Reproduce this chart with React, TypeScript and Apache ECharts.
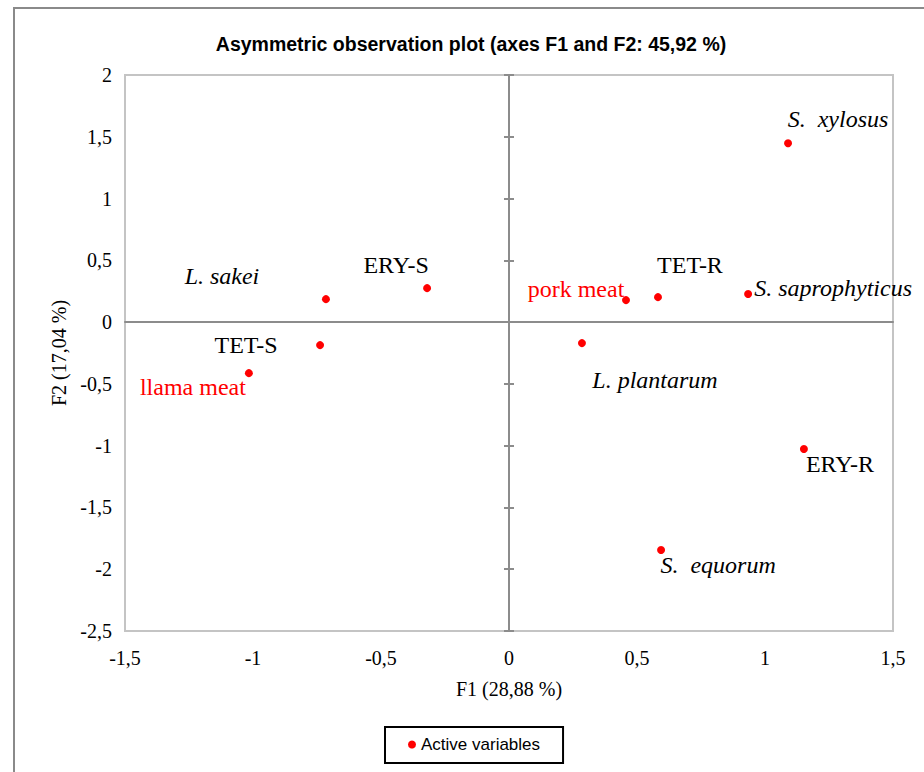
import React, { useEffect, useRef } from "react";
import * as echarts from "echarts";

const pointNames = [
  "L. sakei",
  "ERY-S",
  "TET-S",
  "llama meat",
  "pork meat",
  "TET-R",
  "S. saprophyticus",
  "S.  xylosus",
  "L. plantarum",
  "ERY-R",
  "S.  equorum",
];
const f1Values = [-0.715, -0.32, -0.738, -1.016, 0.457, 0.582, 0.934, 1.09, 0.285, 1.152, 0.594];
const f2Values = [0.186, 0.275, -0.186, -0.413, 0.178, 0.202, 0.227, 1.448, -0.17, -1.027, -1.845];

const xTicks = { min: -1.5, max: 1.5, step: 0.5 };
const yTicks = { min: -2.5, max: 2, step: 0.5 };

const titleText = "Asymmetric observation plot (axes F1 and F2: 45,92 %)";
const xName = "F1 (28,88 %)";
const yName = "F2 (17,04 %)";
const seriesName = "Active variables";

// label placement / style (not data)
const labelCfg: Record<string, { dx: number; dy: number; italic: boolean; color: string }> = {
  "L. sakei": { dx: -104, dy: -23, italic: true, color: "#000000" },
  "ERY-S": { dx: -31, dy: -23, italic: false, color: "#000000" },
  "TET-S": { dx: -74, dy: 0, italic: false, color: "#000000" },
  "llama meat": { dx: -56, dy: 14, italic: false, color: "#ff0000" },
  "pork meat": { dx: -50, dy: -11, italic: false, color: "#ff0000" },
  "TET-R": { dx: 32, dy: -32, italic: false, color: "#000000" },
  "S. saprophyticus": { dx: 85, dy: -6, italic: true, color: "#000000" },
  "S.  xylosus": { dx: 50, dy: -24, italic: true, color: "#000000" },
  "L. plantarum": { dx: 73, dy: 37, italic: true, color: "#000000" },
  "ERY-R": { dx: 36, dy: 15, italic: false, color: "#000000" },
  "S.  equorum": { dx: 57, dy: 15, italic: true, color: "#000000" },
};

const SERIF = "'Liberation Serif', 'Times New Roman', serif";
const NARROW = "'Liberation Sans Narrow', 'Arial Narrow', 'Liberation Sans', sans-serif";
const fmt = (v: number) => String(v).replace(".", ",");

export default function App() {
  const ref = useRef<HTMLDivElement>(null);
  useEffect(() => {
    document.body.style.margin = "0";
    if (!ref.current) return;
    const chart = echarts.init(ref.current, null, { renderer: "svg" });
    const data = pointNames.map((n, i) => {
      const c = labelCfg[n];
      return {
        name: n,
        value: [f1Values[i], f2Values[i]],
        label: {
          show: true,
          formatter: n,
          position: "inside",
          offset: [c.dx, c.dy],
          fontStyle: c.italic ? "italic" : "normal",
          color: c.color,
          opacity: 1,
          fontFamily: SERIF,
          fontSize: 24,
        },
      };
    });
    const axisLineColor = "#8c8c8c";
    const baseX = { type: "value", min: xTicks.min, max: xTicks.max, interval: xTicks.step, splitLine: { show: false } };
    const baseY = { type: "value", min: yTicks.min, max: yTicks.max, interval: yTicks.step, splitLine: { show: false } };
    chart.setOption({
      animation: false,
      backgroundColor: "#ffffff",
      title: {
        text: titleText,
        left: 466,
        top: 29,
        textAlign: "center",
        textStyle: { fontFamily: NARROW, fontWeight: "bold", fontSize: 19.5, color: "#000" },
      },
      legend: {
        data: [{ name: seriesName, icon: "circle" }],
        left: 385,
        top: 727,
        itemWidth: 8,
        itemHeight: 9,
        itemGap: 5,
        padding: [9, 23, 10, 23],
        borderColor: "#000",
        borderWidth: 2,
        textStyle: { fontFamily: NARROW, fontSize: 17, color: "#000" },
      },
      grid: {
        left: 125,
        right: 31,
        top: 75,
        bottom: 141,
        show: true,
        borderColor: "#c4c4c4",
        borderWidth: 2,
        containLabel: false,
      },
      xAxis: [
        {
          ...baseX,
          position: "bottom",
          axisLine: { show: false, onZero: false },
          axisTick: { show: false },
          axisLabel: { formatter: fmt, fontFamily: SERIF, fontSize: 20, color: "#000", margin: 17 },
          name: xName,
          nameLocation: "middle",
          nameGap: 48,
          nameTextStyle: { fontFamily: SERIF, fontSize: 20, color: "#000" },
        },
        {
          ...baseX,
          position: "bottom",
          axisLine: { show: true, onZero: true, onZeroAxisIndex: 0, lineStyle: { color: axisLineColor, width: 2 } },
          axisTick: { show: false },
          axisLabel: { show: false },
        },
      ],
      yAxis: [
        {
          ...baseY,
          position: "left",
          axisLine: { show: false, onZero: false },
          axisTick: { show: false },
          axisLabel: { formatter: fmt, fontFamily: SERIF, fontSize: 20, color: "#000", margin: 13 },
          name: yName,
          nameLocation: "middle",
          nameGap: 52,
          nameTextStyle: { fontFamily: SERIF, fontSize: 20, color: "#000" },
        },
        {
          ...baseY,
          position: "left",
          axisLine: { show: true, onZero: true, onZeroAxisIndex: 0, lineStyle: { color: axisLineColor, width: 2 } },
          axisTick: { show: true, inside: false, length: 5, lineStyle: { color: axisLineColor, width: 2 } },
          axisLabel: { show: false },
        },
        {
          ...baseY,
          position: "left",
          axisLine: { show: false, onZero: true, onZeroAxisIndex: 0 },
          axisTick: { show: true, inside: true, length: 5, lineStyle: { color: axisLineColor, width: 2 } },
          axisLabel: { show: false },
        },
      ],
      graphic: [
        {
          type: "rect",
          shape: { x: 14, y: 8, width: 1000, height: 1000 },
          style: { fill: "none", stroke: "#8a8a8a", lineWidth: 2 },
          silent: true,
          z: -1,
        },
      ],
      series: [
        {
          type: "scatter",
          name: seriesName,
          xAxisIndex: 0,
          yAxisIndex: 0,
          symbol: "circle",
          symbolSize: 8,
          itemStyle: { color: "#ff0000", opacity: 1 },
          data,
          z: 5,
        },
      ],
    });
    return () => chart.dispose();
  }, []);
  return <div ref={ref} style={{ width: 924, height: 772 }} />;
}
